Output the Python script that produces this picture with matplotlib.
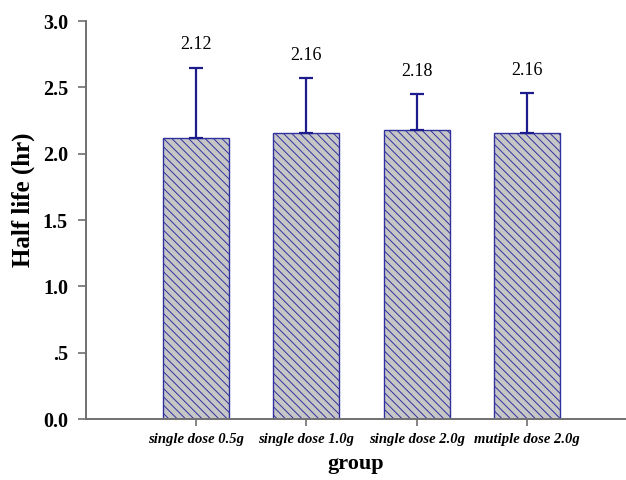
import numpy as np
import matplotlib.pyplot as plt
from matplotlib.ticker import FuncFormatter

# data
groups = ['single dose 0.5g', 'single dose 1.0g', 'single dose 2.0g', 'mutiple dose 2.0g']
half_life = [2.12, 2.16, 2.18, 2.16]
err_up = [0.53, 0.41, 0.27, 0.30]

plt.rcParams['font.family'] = ['Liberation Serif', 'DejaVu Serif']
plt.rcParams['hatch.linewidth'] = 0.7

fig = plt.figure(figsize=(6.26, 4.8), dpi=100)
ax = fig.add_axes([0.1374, 0.127, 0.8626, 0.829])

x = np.arange(len(groups))
navy = '#3030a0'
ax.bar(x, half_life, width=0.6, color='#c6c6c6', edgecolor=navy,
       hatch='\\\\\\\\', linewidth=1.0, zorder=2)
ax.errorbar(x, half_life, yerr=[np.zeros(len(x)), err_up], fmt='none',
            ecolor='#1c1c8c', elinewidth=1.6, capsize=5, capthick=1.6, zorder=3)

for xi, v, e in zip(x, half_life, err_up):
    ax.text(xi, v + e + 0.17, f'{v:.2f}', ha='center', va='center', fontsize=13)

ax.set_xlim(-1.0, 3.9)
ax.set_ylim(0, 3.0)
ax.set_yticks(np.arange(0, 3.01, 0.5))
ax.yaxis.set_major_formatter(FuncFormatter(
    lambda v, p: '.5' if abs(v - 0.5) < 1e-9 else f'{v:.1f}'))
ax.set_xticks(x)
ax.set_xticklabels(groups, fontsize=10.5, fontweight='bold', fontstyle='italic')
for lab in ax.get_yticklabels():
    lab.set_fontweight('bold')
    lab.set_fontsize(14.5)

for s in ['top', 'right']:
    ax.spines[s].set_visible(False)
for s in ['left', 'bottom']:
    ax.spines[s].set_color('#707070')
    ax.spines[s].set_linewidth(1.4)
ax.tick_params(axis='both', colors='#707070', length=6, width=1.2)
ax.tick_params(axis='both', labelcolor='black')
ax.tick_params(axis='y', pad=7)
ax.tick_params(axis='x', length=5, pad=5)

ax.set_ylabel('Half life (hr)', fontsize=18, fontweight='bold', va='center')
ax.yaxis.set_label_coords(-0.117, 0.55)
ax.set_xlabel('group', fontsize=16, fontweight='bold', labelpad=6)

plt.savefig('out.png', dpi=100)
